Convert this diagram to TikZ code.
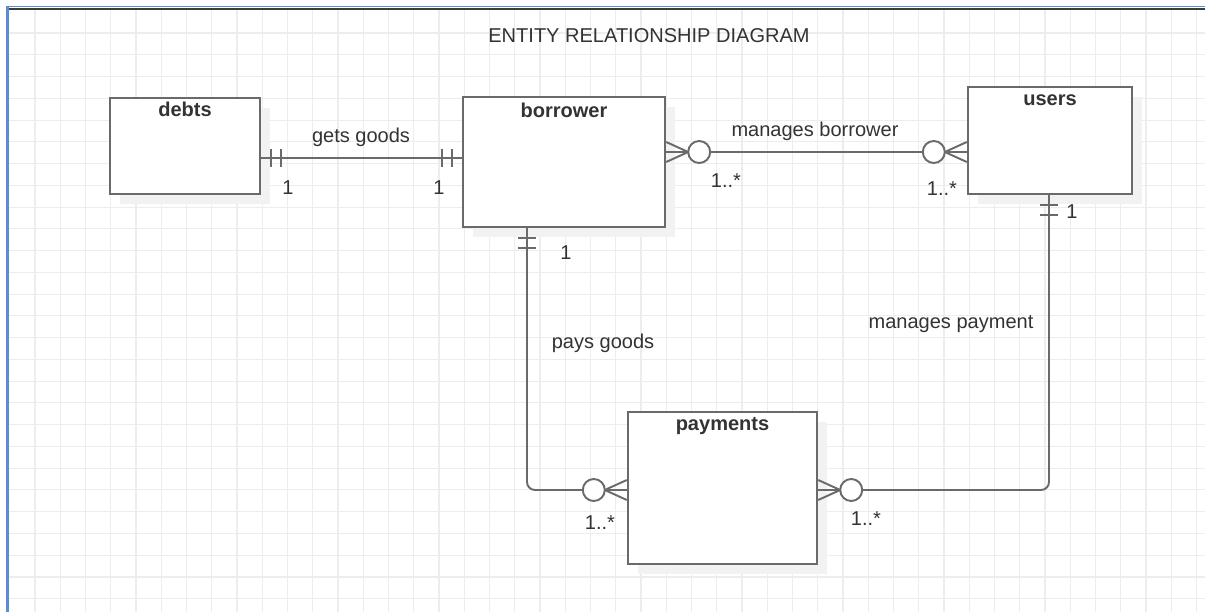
\documentclass[tikz,border=0pt]{standalone}
\usepackage{fontspec}
\setmainfont{Liberation Sans}
\usetikzlibrary{calc}
\definecolor{edgegray}{HTML}{6A6A6A}
\definecolor{inkgray}{HTML}{333333}
\definecolor{gridgray}{HTML}{EDEDED}
\definecolor{frameblue}{HTML}{5B8DD6}
\definecolor{framedark}{HTML}{3C3C3C}
\begin{document}
\begin{tikzpicture}[x=0.02cm,y=-0.02cm,
  every node/.style={font=\fontsize{11.4}{13.7}\selectfont, text=inkgray, inner sep=0pt},
  entity/.style={draw=edgegray, line width=1.4pt, fill=white, minimum width=#1},
  shade/.style={fill=black!5, draw=none},
  entname/.style={font=\fontsize{11.4}{13.7}\selectfont\bfseries},
  rel/.style={draw=edgegray, line width=1.1pt},
  gridline/.style={draw=gridgray, line width=0.6pt},
  manyend/.pic={
    \draw[rel] (0,-10) -- (22,0) -- (0,10);
    \draw[rel] (0,0) -- (22,0);
    \draw[rel, fill=white] (33,0) circle[radius=0.22cm];
  },
  oneend/.pic={
    \draw[rel] (10,-9) -- (10,9);
    \draw[rel] (20,-9) -- (20,9);
  }]
% canvas and grid
\useasboundingbox (0,0) rectangle (1205,612);
\fill[white] (0,0) rectangle (1205,612);
\foreach \i in {0,...,46} \draw[gridline] (35+25.25*\i,9) -- (35+25.25*\i,612);
\foreach \j in {0,...,26} \draw[gridline] (8,33+21.76*\j) -- (1205,33+21.76*\j);
% window frame
\draw[frameblue, line width=0.9pt] (7,6.5) -- (1205,6.5);
\draw[framedark, line width=1.7pt] (8,9) -- (1205,9);
\draw[frameblue, line width=1.2pt] (7.5,6) -- (7.5,612);

\node (title) at (649,36) {ENTITY RELATIONSHIP DIAGRAM};

% entity shadows
\fill[shade] (120,108) rectangle (270,204);
\fill[shade] (473,107) rectangle (675,237);
\fill[shade] (978,97) rectangle (1142,204);
\fill[shade] (638,422) rectangle (827,574);

% entities
\node[entity=3cm, minimum height=1.92cm] (debts) at (185,146) {};
\node[entity=4.04cm, minimum height=2.6cm] (borrower) at (564,162) {};
\node[entity=3.28cm, minimum height=2.14cm] (users) at (1050,140.5) {};
\node[entity=3.78cm, minimum height=3.04cm] (payments) at (722.5,488) {};

\node[entname] (debts-t) at ($(debts.north)+(0,13)$) {debts};
\node[entname] (borrower-t) at ($(borrower.north)+(0,15)$) {borrower};
\node[entname] (users-t) at ($(users.north)+(0,14)$) {users};
\node[entname] (payments-t) at ($(payments.north)+(0,15)$) {payments};

% connector end points on the entity borders
\coordinate (dE) at (debts.east |- 0,158);
\coordinate (bW) at (borrower.west |- 0,158);
\coordinate (bE) at (borrower.east |- 0,152);
\coordinate (uW) at (users.west |- 0,152);
\coordinate (bS) at (borrower.south -| 527,0);
\coordinate (pW) at (payments.west |- 0,490);
\coordinate (uS) at (users.south -| 1049,0);
\coordinate (pE) at (payments.east |- 0,490);

% relationships
\draw[rel] (dE) -- (bW);
\draw[rel] (bE) -- (uW);
\draw[rel, rounded corners=0.16cm] (bS) |- (pW);
\draw[rel, rounded corners=0.16cm] (uS) |- (pE);

% cardinality marks
\pic at (dE) {oneend};
\pic[rotate=180] at (bW) {oneend};
\pic at (bE) {manyend};
\pic[rotate=180] at (uW) {manyend};
\pic[rotate=-90] at (bS) {oneend};
\pic[rotate=180] at (pW) {manyend};
\pic[rotate=-90] at (uS) {oneend};
\pic at (pE) {manyend};

% labels
\node (l-gets) at (361,137) {gets goods};
\node (c-d) at (288,188) {1};
\node (c-bw) at (439,188) {1};
\node (l-mb) at (815,131) {manages borrower};
\node (c-be) at (726,181) {1..*};
\node (c-uw) at (942,189) {1..*};
\node (c-bs) at (566,253) {1};
\node (l-pays) at (603,343) {pays goods};
\node (l-mp) at (951,324) {manages payment};
\node (c-us) at (1072,212) {1};
\node (c-pw) at (600,523) {1..*};
\node (c-pe) at (866,519) {1..*};
\end{tikzpicture}
\end{document}
